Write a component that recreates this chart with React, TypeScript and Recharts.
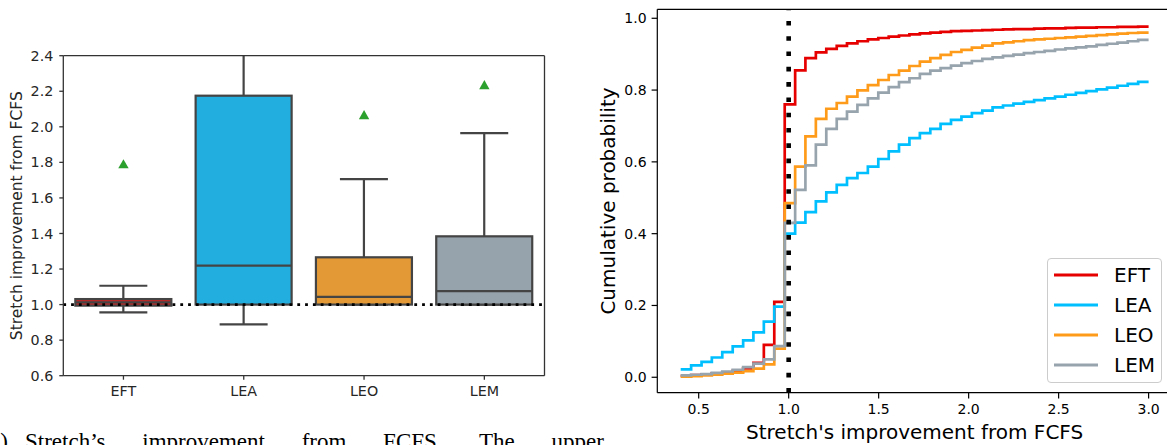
import { ComposedChart, Bar, Scatter, XAxis, YAxis, ReferenceLine, LineChart, Line, Legend } from 'recharts'

const FONT = 'DejaVu Sans'
const EDGE = '#444444'

// left panel: box plot
const BOX_NAMES = ['EFT', 'LEA', 'LEO', 'LEM']
const BOX_FILL = ['#d02424', '#22aedf', '#e39a36', '#97a3ac']
const Q1 = [0.994, 1.0, 1.0, 1.0]
const MEDIAN = [1.013, 1.219, 1.043, 1.076]
const Q3 = [1.031, 2.175, 1.266, 1.384]
const WHISK_LO = [0.956, 0.889, 1.0, 1.0]
const WHISK_HI = [1.106, 2.75, 1.706, 1.965]
const MEANS = [1.79, null, 2.066, 2.235]
const BOX_TICKS = [0.6, 0.8, 1.0, 1.2, 1.4, 1.6, 1.8, 2.0, 2.2, 2.4]

// right panel: cumulative distributions (bin edges, one value per bin)
const EDGES = [0.4, 0.458, 0.516, 0.573, 0.631, 0.689, 0.747, 0.804, 0.862, 0.92, 0.978, 1.036, 1.093, 1.151, 1.209,
  1.267, 1.324, 1.382, 1.44, 1.498, 1.556, 1.613, 1.671, 1.729, 1.787, 1.844, 1.902, 1.96, 2.018, 2.076, 2.133, 2.191,
  2.249, 2.307, 2.364, 2.422, 2.48, 2.538, 2.596, 2.653, 2.711, 2.769, 2.827, 2.884, 2.942, 3.0]
const EFT = [0.004, 0.006, 0.008, 0.011, 0.014, 0.018, 0.025, 0.04, 0.09, 0.21,
  0.76, 0.855, 0.889, 0.905, 0.915, 0.923, 0.93, 0.936, 0.941, 0.945,
  0.949, 0.952, 0.955, 0.958, 0.96, 0.962, 0.964, 0.965, 0.966, 0.967,
  0.968, 0.969, 0.97, 0.97, 0.971, 0.972, 0.972, 0.973, 0.974, 0.974,
  0.975, 0.975, 0.976, 0.976, 0.977]
const LEA = [0.022, 0.033, 0.043, 0.055, 0.07, 0.086, 0.103, 0.125, 0.155, 0.197,
  0.4, 0.431, 0.46, 0.49, 0.515, 0.536, 0.555, 0.569, 0.587, 0.608,
  0.629, 0.648, 0.666, 0.68, 0.692, 0.706, 0.717, 0.726, 0.736, 0.743,
  0.752, 0.757, 0.762, 0.767, 0.772, 0.777, 0.782, 0.787, 0.792, 0.797,
  0.802, 0.807, 0.812, 0.817, 0.823]
const LEO = [0.002, 0.003, 0.005, 0.007, 0.01, 0.013, 0.017, 0.024, 0.036, 0.08,
  0.485, 0.587, 0.671, 0.72, 0.748, 0.764, 0.782, 0.799, 0.814, 0.828,
  0.842, 0.854, 0.867, 0.879, 0.889, 0.898, 0.906, 0.912, 0.918, 0.924,
  0.93, 0.933, 0.936, 0.939, 0.941, 0.943, 0.945, 0.947, 0.949, 0.951,
  0.953, 0.955, 0.957, 0.959, 0.96]
const LEM = [0.005, 0.007, 0.009, 0.012, 0.016, 0.021, 0.028, 0.038, 0.05, 0.087,
  0.43, 0.522, 0.59, 0.648, 0.692, 0.72, 0.74, 0.759, 0.777, 0.793,
  0.808, 0.822, 0.833, 0.845, 0.854, 0.861, 0.868, 0.875, 0.881, 0.887,
  0.891, 0.895, 0.899, 0.903, 0.906, 0.909, 0.913, 0.916, 0.919, 0.922,
  0.926, 0.929, 0.932, 0.936, 0.94]
const CDF_X_TICKS = [0.5, 1.0, 1.5, 2.0, 2.5, 3.0]
const CDF_Y_TICKS = [0, 0.2, 0.4, 0.6, 0.8, 1.0]
const SERIES = [
  { key: 'EFT', values: EFT, color: '#e60000' },
  { key: 'LEA', values: LEA, color: '#00bfff' },
  { key: 'LEO', values: LEO, color: '#ff9b1a' },
  { key: 'LEM', values: LEM, color: '#98a4ad' },
]
const SERIES_ORDER = SERIES.map(s => s.key)

const boxData = BOX_NAMES.map((name, i) => ({
  name, q1: Q1[i], median: MEDIAN[i], q3: Q3[i], lo: WHISK_LO[i], hi: WHISK_HI[i], mean: MEANS[i], fill: BOX_FILL[i],
}))

// step table: last edge repeats the last bin value
const cdfData = EDGES.map((x, k) => {
  const row: Record<string, number> = { x }
  SERIES.forEach(s => { row[s.key] = s.values[Math.min(k, s.values.length - 1)] })
  return row
})

function BoxShape(props: any) {
  const { x, y, width, height, payload } = props
  const top = Math.min(y, y + height)
  const h = Math.abs(height)
  const { lo, hi } = payload
  const py = (v: number) => top + (h * (hi - v)) / (hi - lo)
  const cx = x + width / 2
  const cap = width / 4
  const yq1 = py(payload.q1), yq3 = py(payload.q3), ymed = py(payload.median)
  const s = { stroke: EDGE, strokeWidth: 2.2 }
  return (
    <g>
      <line x1={cx} x2={cx} y1={py(hi)} y2={yq3} {...s} />
      <line x1={cx} x2={cx} y1={yq1} y2={py(lo)} {...s} />
      <line x1={cx - cap} x2={cx + cap} y1={py(hi)} y2={py(hi)} {...s} />
      <line x1={cx - cap} x2={cx + cap} y1={py(lo)} y2={py(lo)} {...s} />
      <rect x={x} y={yq3} width={width} height={yq1 - yq3} fill={payload.fill} {...s} />
      <line x1={x} x2={x + width} y1={ymed} y2={ymed} {...s} />
    </g>
  )
}

function MeanMarker(props: any) {
  const { cx, cy, payload } = props
  if (payload?.mean == null || !Number.isFinite(cx) || !Number.isFinite(cy)) return null
  return <polygon points={`${cx},${cy - 5} ${cx - 5.2},${cy + 4.2} ${cx + 5.2},${cy + 4.2}`} fill="#2ca02c" />
}

const title = (x: number, y: number, text: string, size: number, fill: string, rotate = false) => () => (
  <text x={x} y={y} textAnchor="middle" dominantBaseline="central" fontSize={size} fill={fill} fontFamily={FONT}
    transform={rotate ? `rotate(-90 ${x} ${y})` : undefined}>{text}</text>
)

function CdfLegend(props: any) {
  const items = [...(props.payload || [])].sort(
    (a: any, b: any) => SERIES_ORDER.indexOf(a.value) - SERIES_ORDER.indexOf(b.value))
  return (
    <div style={{ width: 115, height: 125, boxSizing: 'border-box', border: '1px solid #cccccc', borderRadius: 4,
      background: 'rgba(255,255,255,0.8)', paddingTop: 1, fontFamily: FONT, fontSize: 20 }}>
      {items.map((it: any) => (
        <div key={it.value} style={{ height: 30, display: 'flex', alignItems: 'center' }}>
          <svg width={58} height={30} style={{ flex: 'none' }}>
            <line x1={6} x2={50} y1={15} y2={15} stroke={it.color} strokeWidth={3} />
          </svg>
          <span style={{ marginLeft: 8, color: '#000' }}>{it.value}</span>
        </div>
      ))}
    </div>
  )
}

export default function App() {
  const leftTick = { fontSize: 14.3, fill: '#262626', fontFamily: FONT }
  const rightTick = { fontSize: 14, fill: '#000', fontFamily: FONT }
  const leftLine = { stroke: '#333', strokeWidth: 1.3 }
  const rightLine = { stroke: '#000', strokeWidth: 1.2 }
  return (
    <div style={{ position: 'fixed', left: 0, top: 0, width: 1167, height: 445, overflow: 'hidden', background: '#fff' }}>
      <div style={{ position: 'absolute', left: 0, top: 0 }}>
        <ComposedChart width={560} height={445} data={boxData} barCategoryGap="10%"
          margin={{ top: 54.7, right: 14.5, bottom: 39.3, left: 0 }}>
          <XAxis dataKey="name" height={30} tick={leftTick} tickSize={4} tickMargin={6}
            axisLine={leftLine} tickLine={leftLine} />
          <XAxis xAxisId="top" orientation="top" dataKey="name" height={1} tick={false} tickLine={false}
            axisLine={leftLine} />
          <YAxis type="number" domain={[0.6, 2.4]} ticks={BOX_TICKS} allowDataOverflow width={63.3}
            tick={leftTick} tickSize={4} tickMargin={6} tickFormatter={(v: number) => v.toFixed(1)}
            axisLine={leftLine} tickLine={leftLine}
            label={title(16.7, 215.7, 'Stretch improvement from FCFS', 15.5, '#262626', true)} />
          <YAxis yAxisId="right" orientation="right" type="number" domain={[0.6, 2.4]} width={1} tick={false}
            tickLine={false} axisLine={leftLine} />
          <Bar dataKey={(d: any) => [d.lo, d.hi]} shape={BoxShape} isAnimationActive={false} />
          <ReferenceLine y={1} stroke="#000" strokeWidth={2.8} strokeDasharray="2.8 5" />
          <Scatter dataKey="mean" shape={MeanMarker} isAnimationActive={false} />
        </ComposedChart>
      </div>

      <div style={{ position: 'absolute', left: 590, top: 0 }}>
        <LineChart width={600} height={445} data={cdfData} margin={{ top: 8.3, right: 18, bottom: 0, left: 0 }}>
          <XAxis dataKey="x" type="number" domain={[0.27, 3.13]} ticks={CDF_X_TICKS} allowDataOverflow height={52.3}
            tick={rightTick} tickSize={5.7} tickMargin={6} tickFormatter={(v: number) => v.toFixed(1)}
            axisLine={rightLine} tickLine={rightLine}
            label={title(324.6, 432, "Stretch's improvement from FCFS", 20, '#000')} />
          <XAxis xAxisId="top" orientation="top" dataKey="x" type="number" domain={[0.27, 3.13]} allowDataOverflow
            height={1} tick={false} tickLine={false} axisLine={rightLine} />
          <YAxis type="number" domain={[-0.043, 1.025]} ticks={CDF_Y_TICKS} allowDataOverflow width={67.3}
            tick={rightTick} tickSize={5.7} tickMargin={5} tickFormatter={(v: number) => v.toFixed(1)}
            axisLine={rightLine} tickLine={rightLine}
            label={title(18, 201, 'Cumulative probability', 20, '#000', true)} />
          {SERIES.map(s => (
            <Line key={s.key} dataKey={s.key} name={s.key} type="stepAfter" stroke={s.color} strokeWidth={2.7}
              dot={false} isAnimationActive={false} />
          ))}
          <ReferenceLine x={1} stroke="#000" strokeWidth={4.6} strokeDasharray="4.6 10.7" />
          <Legend layout="vertical" align="center" verticalAlign="middle" content={CdfLegend}
            wrapperStyle={{ position: 'absolute', left: 457, top: 258, width: 115, height: 125 }} />
        </LineChart>
      </div>

      <div style={{ position: 'absolute', left: -17.5, top: 430, fontFamily: 'Liberation Serif', fontSize: 23,
        lineHeight: '23px', whiteSpace: 'nowrap', color: '#000' }}>
        <span>(a)</span>
        <span style={{ marginLeft: 17, wordSpacing: 31 }}>Stretch’s improvement from FCFS. The upper</span>
      </div>
    </div>
  )
}
